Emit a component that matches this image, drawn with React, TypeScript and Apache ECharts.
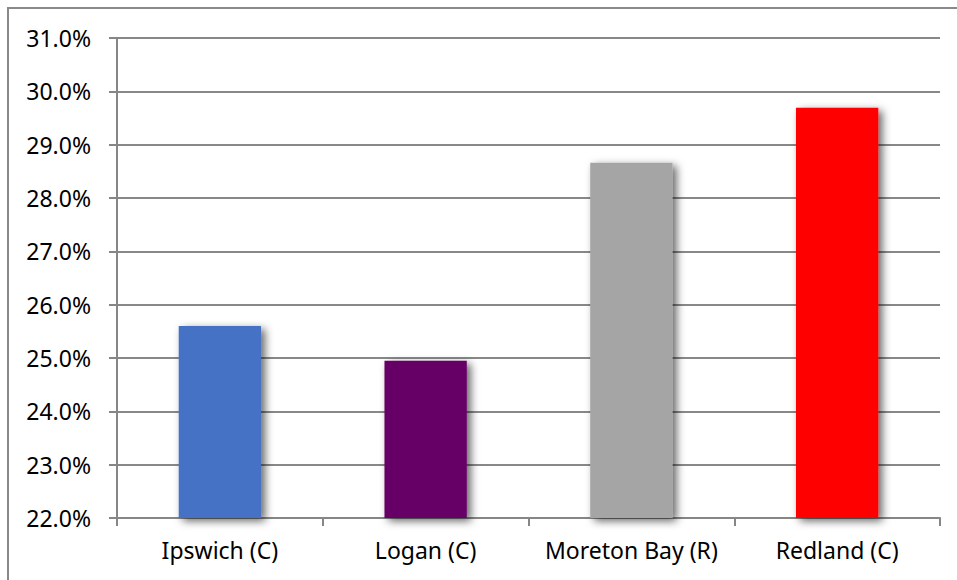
import React, { useEffect, useRef } from "react";
import * as echarts from "echarts";

const categories = ["Ipswich (C)", "Logan (C)", "Moreton Bay (R)", "Redland (C)"];
const values = [25.6, 24.95, 28.66, 29.69];
const barColors = ["#4472C4", "#660066", "#A5A5A5", "#FF0000"];
const yMin = 22;
const yMax = 31;
const yStep = 1;

export default function App() {
  const ref = useRef<HTMLDivElement>(null);
  useEffect(() => {
    if (!ref.current) return;
    const chart = echarts.init(ref.current, null, { renderer: "svg" });
    const font = '"Noto Sans", sans-serif';
    chart.setOption({
      animation: false,
      backgroundColor: "#ffffff",
      grid: { left: 117, right: 17, top: 38, bottom: 62, containLabel: false },
      graphic: [
        {
          type: "rect",
          shape: { x: 8, y: 8, width: 1000, height: 1000 },
          style: { fill: "none", stroke: "#898989", lineWidth: 2 },
          z: 0,
          silent: true,
        },
      ],
      xAxis: {
        type: "category",
        data: categories,
        boundaryGap: true,
        axisLine: { show: true, lineStyle: { color: "#868686", width: 2 } },
        axisTick: { show: true, length: 8, alignWithLabel: false, lineStyle: { color: "#868686", width: 2 } },
        axisLabel: { color: "#000", fontFamily: font, fontSize: 23, margin: 20, interval: 0 },
      },
      yAxis: {
        type: "value",
        min: yMin,
        max: yMax,
        interval: yStep,
        axisLine: { show: true, lineStyle: { color: "#868686", width: 2 } },
        axisTick: { show: true, length: 8, lineStyle: { color: "#868686", width: 2 } },
        splitLine: {
          show: true,
          lineStyle: { color: "#888888", width: 2 },
        },
        axisLabel: {
          color: "#000",
          fontFamily: font,
          fontSize: 23,
          margin: 26,
          formatter: (v: number) => `${v.toFixed(1)}%`,
        },
      },
      series: [
        {
          type: "bar",
          barWidth: "40%",
          data: values.map((v, i) => ({
            value: v,
            itemStyle: {
              color: barColors[i],
              shadowColor: "rgba(0,0,0,0.6)",
              shadowBlur: 8,
              shadowOffsetX: 4,
              shadowOffsetY: 3,
            },
          })),
        },
      ],
    });
    return () => chart.dispose();
  }, []);
  return (
    <div
      ref={ref}
      style={{ position: "absolute", left: 0, top: 0, width: 957, height: 580 }}
    />
  );
}
